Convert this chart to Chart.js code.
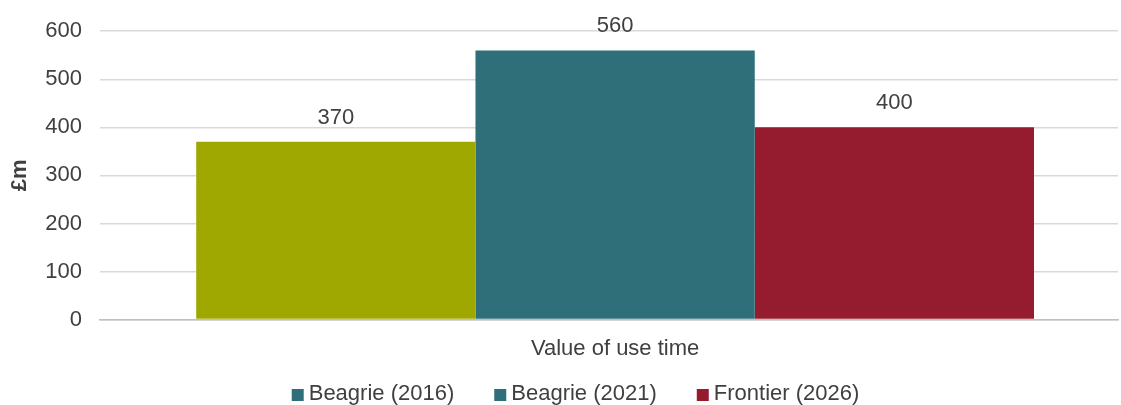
<!DOCTYPE html>
<html>
<head>
<meta charset="utf-8">
<script src="https://cdn.jsdelivr.net/npm/chart.js@4/dist/chart.umd.min.js"></script>
<style>
  html, body { margin: 0; padding: 0; background: #fff; overflow: hidden; }
  #wrap { position: relative; width: 1121px; height: 405px; }
</style>
</head>
<body>
<div id="wrap"><canvas id="valueChart"></canvas></div>
<script>
// Chart data
const categories = ['Value of use time'];
const seriesNames = ['Beagrie (2016)', 'Beagrie (2021)', 'Frontier (2026)'];
const seriesValues = [370, 560, 400];
const yTicks = [0, 100, 200, 300, 400, 500, 600];

const barColours = ['#9fa800', '#2f6f79', '#951c2f'];
const legendColours = ['#2f6f79', '#2f6f79', '#951c2f'];

const font = "'Liberation Sans', Arial, sans-serif";
const textColour = '#404040';
const fontSize = 22;

// the group sits slightly right of the plot centre
const groupShift = 0.012;

// Draws the value above each bar
const valueLabels = {
    id: 'valueLabels',
    afterDatasetsDraw(chart) {
        const c = chart.ctx;
        c.save();
        c.font = fontSize + 'px ' + font;
        c.fillStyle = textColour;
        c.textAlign = 'center';
        c.textBaseline = 'middle';
        chart.data.datasets.forEach((ds, i) => {
            const meta = chart.getDatasetMeta(i);
            meta.data.forEach((bar, j) => {
                c.fillText(String(ds.data[j].y), bar.x, bar.y - 24);
            });
        });
        c.restore();
    }
};

// Simple one-row legend along the bottom edge
const bottomLegend = {
    id: 'bottomLegend',
    afterDraw(chart) {
        const c = chart.ctx;
        const box = 12, gap = 5, spacing = 40;
        const y = chart.height - 11;
        c.save();
        c.font = fontSize + 'px ' + font;
        c.textBaseline = 'middle';
        const items = chart.data.datasets.map((ds, i) => ({
            text: ds.label,
            colour: legendColours[i],
            w: box + gap + c.measureText(ds.label).width
        }));
        const total = items.reduce((s, it) => s + it.w, 0) + spacing * (items.length - 1);
        let x = chart.width / 2 + 15 - total / 2;
        items.forEach(it => {
            c.fillStyle = it.colour;
            c.fillRect(x, y - box / 2 + 1, box, box);
            c.fillStyle = textColour;
            c.fillText(it.text, x + box + gap, y);
            x += it.w + spacing;
        });
        c.restore();
    }
};

const ctx = document.getElementById('valueChart').getContext('2d');
new Chart(ctx, {
    type: 'bar',
    data: {
        datasets: seriesNames.map((name, i) => ({
            label: name,
            data: [{ x: 0, y: seriesValues[i] }],
            backgroundColor: barColours[i],
            borderWidth: 0,
            categoryPercentage: 0.823,
            barPercentage: 1.0
        }))
    },
    options: {
        responsive: true,
        maintainAspectRatio: false,
        animation: false,
        layout: { padding: { top: 22, right: 3, left: 0, bottom: 27 } },
        plugins: {
            tooltip: { enabled: false },
            legend: { display: false }
        },
        scales: {
            x: {
                type: 'linear',
                min: -0.5 - groupShift,
                max: 0.5 - groupShift,
                afterBuildTicks(axis) {
                    axis.ticks = [{ value: 0 }];
                },
                grid: { display: false, drawTicks: false },
                border: { color: '#bfbfbf', width: 1.5 },
                ticks: {
                    font: { family: font, size: fontSize },
                    color: textColour,
                    padding: 16,
                    callback: (v) => categories[v]
                }
            },
            y: {
                min: 0,
                max: 600,
                afterBuildTicks(axis) {
                    axis.ticks = yTicks.map(v => ({ value: v }));
                },
                afterFit(scale) { scale.width = 100; },
                grid: { color: '#d9d9d9', lineWidth: 1.5, drawTicks: false },
                border: { display: false },
                ticks: {
                    font: { family: font, size: fontSize },
                    color: textColour,
                    padding: 18
                },
                title: {
                    display: true,
                    text: '£m',
                    font: { family: font, size: fontSize, weight: 'bold' },
                    color: textColour,
                    padding: { top: 7, bottom: 0 }
                }
            }
        }
    },
    plugins: [valueLabels, bottomLegend]
});
</script>
</body>
</html>
